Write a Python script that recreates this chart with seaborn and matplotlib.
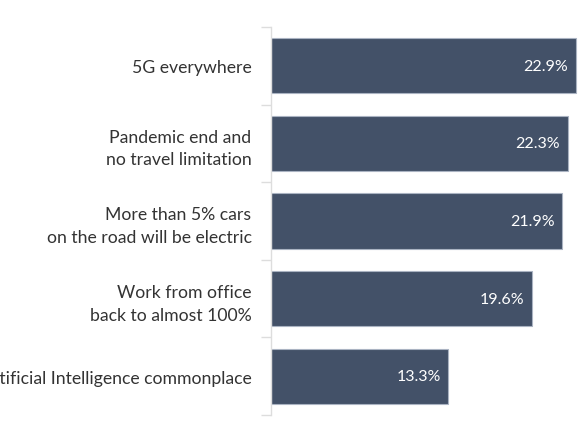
import matplotlib
matplotlib.use("Agg")
import matplotlib.pyplot as plt
import seaborn as sns
import pandas as pd
import numpy as np

categories = [
    "5G everywhere",
    "Pandemic end and\nno travel limitation",
    "More than 5% cars\non the road will be electric",
    "Work from office\nback to almost 100%",
    "Artificial Intelligence commonplace",
]
values = [22.9, 22.3, 21.9, 19.6, 13.3]
value_labels = ["22.9%", "22.3%", "21.9%", "19.6%", "13.3%"]

df = pd.DataFrame({"category": categories, "value": values})

sns.set_theme(style="white")
plt.rcParams['font.family'] = ['Lato', 'DejaVu Sans']

fig = plt.figure(figsize=(5.8, 4.35), dpi=100)
ax = fig.add_axes([271/580, 1-416/435, (600-271)/580, 388/435])

sns.barplot(data=df, x="value", y="category", orient="h", color="#435168",
            saturation=1, width=0.71, edgecolor="#aab3c2", linewidth=0.8, ax=ax)

ax.set_xlim(0, (600-271)/13.3)
ax.set_ylim(4.5, -0.5)
ax.set_xlabel("")
ax.set_ylabel("")
ax.set_xticks([])
for s in ["top", "right", "bottom"]:
    ax.spines[s].set_visible(False)
ax.spines["left"].set_color("#dddddd")
ax.spines["left"].set_linewidth(1)

ax.tick_params(axis="y", which="major", left=False, length=0, pad=14, labelsize=12.7, labelcolor="#333333")
ax.set_yticks(np.arange(-0.5, 5, 1), minor=True)
ax.tick_params(axis="y", which="minor", left=True, length=7, color="#dddddd", width=1)
for lab in ax.get_yticklabels():
    lab.set_horizontalalignment("right")
    lab.set_multialignment("right")
    lab.set_linespacing(1.5)

for i, (v, t) in enumerate(zip(values, value_labels)):
    ax.text(v - 0.55, i, t, color="white", ha="right", va="center", fontsize=11.5)

fig.savefig("out.png", dpi=100)
